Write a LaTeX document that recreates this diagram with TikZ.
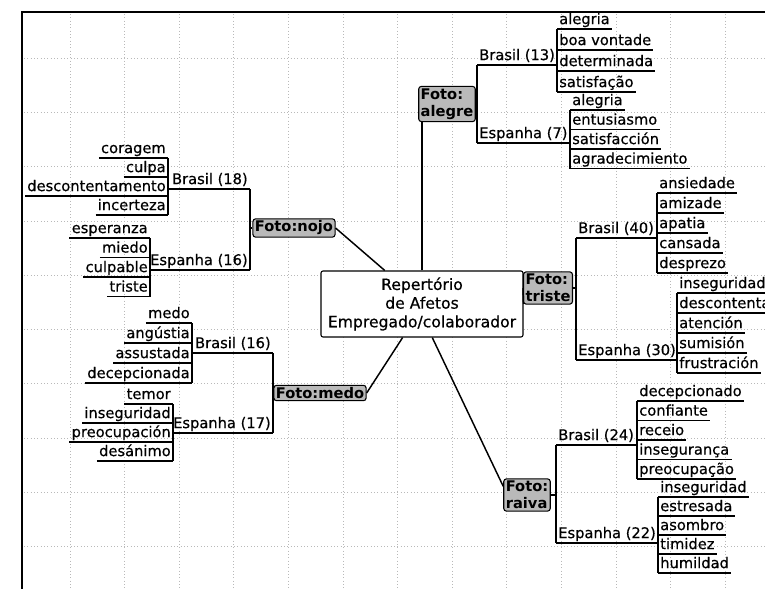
\documentclass[tikz,border=0pt]{standalone}
\usepackage{fontspec}
\setmainfont{DejaVu Sans}

\tikzset{
    topico/.style={font=\fontsize{11}{14}\selectfont\addfontfeature{FakeBold=0.5}, inner xsep=1.5pt, inner ysep=1pt, text height=8pt, text depth=2.5pt},
    foto/.style={draw, line width=0.8pt, rounded corners=2pt, fill=gray!55, font=\fontsize{11}{13}\selectfont\bfseries, align=left, inner sep=1.5pt},
    centro/.style={draw, line width=0.8pt, rounded corners=1.5pt, fill=white, align=center, font=\fontsize{11.7}{14}\selectfont\addfontfeature{FakeBold=0.5}, minimum width=151.5pt, minimum height=49.5pt, inner sep=1pt},
    ramo/.style={line width=0.8pt},
    eixo/.style={line width=1.1pt},
    grade/.style={gray!55, dotted, line width=0.5pt}
}

\begin{document}
\begin{tikzpicture}[x=0.75pt, y=-0.75pt]
    \useasboundingbox (0,0) rectangle (765,589);
    \clip (0,0) rectangle (765,589);

    % grade do papel
    \foreach \gx in {0,...,12} \draw[grade] (70+54.6*\gx,14) -- (70+54.6*\gx,589);
    \foreach \gy in {0,...,9} \draw[grade] (24,58+54.3*\gy) -- (765,58+54.3*\gy);
    \draw[line width=1.2pt] (22,589) -- (22,12) -- (765,12);

    % centro e fotos
    \node[centro] (cen) at (422,304) {Repertório\\de Afetos\\Empregado/colaborador};
    \node[foto] (ale) at (447,104) {Foto:\\alegre};
    \node[foto] (noj) at (294,228) {Foto:nojo};
    \node[foto] (tri) at (548,288) {Foto:\\triste};
    \node[foto] (med) at (320,393) {Foto:medo};
    \node[foto] (rai) at (527,495) {Foto:\\raiva};

    \draw[eixo] (cen.north) -- (cen.north |- ale.south);
    \draw[eixo] (cen.138) -- (noj.east);
    \draw[eixo] (cen.240) -- (med.east);
    \draw[eixo] (cen.287) -- (rai.160);
    \draw[eixo] (cen.east) -- (tri.west);

    % alegre
    \node[topico, anchor=south west] (abr) at (477,65) {Brasil (13)};
    \node[topico, anchor=south west] (aes) at (477,143) {Espanha (7)};
    \foreach \w [count=\i] in {alegria, boa vontade, determinada, satisfação} {
        \node[topico, anchor=south west] (ab\i) at (557,8+21*\i) {\w};
        \draw[ramo] (ab\i.south west) -- (ab\i.south east);
    }
    \foreach \w [count=\i] in {alegria, entusiasmo, satisfacción, agradecimiento} {
        \node[topico, anchor=south west] (ae\i) at (570,90.5+19.5*\i) {\w};
        \draw[ramo] (ae\i.south west) -- (ae\i.south east);
    }
    \draw[ramo] (ale.east) -- (ale.east -| abr.south west);
    \draw[ramo] (abr.south west) -- (aes.south west);
    \draw[ramo] (abr.south west) -- (abr.south west -| ab1.south west);
    \draw[ramo] (aes.south west) -- (aes.south west -| ae1.south west);
    \draw[ramo] (ab1.south west) -- (ab4.south west);
    \draw[ramo] (ae1.south west) -- (ae4.south west);

    % nojo
    \node[topico, anchor=south east] (nbr) at (250,189) {Brasil (18)};
    \node[topico, anchor=south east] (nes) at (250,270) {Espanha (16)};
    \foreach \w [count=\i] in {coragem, culpa, descontentamento, incerteza} {
        \node[topico, anchor=south east] (nb\i) at (168,139+19*\i) {\w};
        \draw[ramo] (nb\i.south west) -- (nb\i.south east);
    }
    \foreach \w [count=\i] in {esperanza, miedo, culpable, triste} {
        \node[topico, anchor=south east] (ne\i) at (150,218.5+19.5*\i) {\w};
        \draw[ramo] (ne\i.south west) -- (ne\i.south east);
    }
    \draw[ramo] (noj.west) -- (noj.west -| nbr.south east);
    \draw[ramo] (nbr.south east) -- (nes.south east);
    \draw[ramo] (nbr.south east) -- (nbr.south east -| nb1.south east);
    \draw[ramo] (nes.south east) -- (nes.south east -| ne1.south east);
    \draw[ramo] (nb1.south east) -- (nb4.south east);
    \draw[ramo] (ne1.south east) -- (ne4.south east);

    % triste
    \node[topico, anchor=south west] (tbr) at (576,238) {Brasil (40)};
    \node[topico, anchor=south west] (tes) at (576,360) {Espanha (30)};
    \foreach \w [count=\i] in {ansiedade, amizade, apatia, cansada, desprezo} {
        \node[topico, anchor=south west] (tb\i) at (657,173+20*\i) {\w};
        \draw[ramo] (tb\i.south west) -- (tb\i.south east);
    }
    \foreach \w [count=\i] in {inseguridad, descontentamento, atención, sumisión, frustración} {
        \node[topico, anchor=south west] (te\i) at (677,273+20*\i) {\w};
        \draw[ramo] (te\i.south west) -- (te\i.south east);
    }
    \draw[ramo] (tri.east) -- (tri.east -| tbr.south west);
    \draw[ramo] (tbr.south west) -- (tes.south west);
    \draw[ramo] (tbr.south west) -- (tbr.south west -| tb1.south west);
    \draw[ramo] (tes.south west) -- (tes.south west -| te1.south west);
    \draw[ramo] (tb1.south west) -- (tb5.south west);
    \draw[ramo] (te1.south west) -- (te5.south west);

    % medo
    \node[topico, anchor=south east] (mbr) at (273,353) {Brasil (16)};
    \node[topico, anchor=south east] (mes) at (273,433) {Espanha (17)};
    \foreach \w [count=\i] in {medo, angústia, assustada, decepcionada} {
        \node[topico, anchor=south east] (mb\i) at (192,303+20*\i) {\w};
        \draw[ramo] (mb\i.south west) -- (mb\i.south east);
    }
    \foreach \w [count=\i] in {temor, inseguridad, preocupación, desánimo} {
        \node[topico, anchor=south east] (me\i) at (173,385+19*\i) {\w};
        \draw[ramo] (me\i.south west) -- (me\i.south east);
    }
    \draw[ramo] (med.west) -- (med.west -| mbr.south east);
    \draw[ramo] (mbr.south east) -- (mes.south east);
    \draw[ramo] (mbr.south east) -- (mbr.south east -| mb1.south east);
    \draw[ramo] (mes.south east) -- (mes.south east -| me1.south east);
    \draw[ramo] (mb1.south east) -- (mb4.south east);
    \draw[ramo] (me1.south east) -- (me4.south east);

    % raiva
    \node[topico, anchor=south west] (rbr) at (556,445) {Brasil (24)};
    \node[topico, anchor=south west] (res) at (556,543) {Espanha (22)};
    \foreach \w [count=\i] in {decepcionado, confiante, receio, insegurança, preocupação} {
        \node[topico, anchor=south west] (rb\i) at (637,381.5+19.5*\i) {\w};
        \draw[ramo] (rb\i.south west) -- (rb\i.south east);
    }
    \foreach \w [count=\i] in {inseguridad, estresada, asombro, timidez, humildad} {
        \node[topico, anchor=south west] (re\i) at (658,478+19*\i) {\w};
        \draw[ramo] (re\i.south west) -- (re\i.south east);
    }
    \draw[ramo] (rai.east) -- (rai.east -| rbr.south west);
    \draw[ramo] (rbr.south west) -- (res.south west);
    \draw[ramo] (rbr.south west) -- (rbr.south west -| rb1.south west);
    \draw[ramo] (res.south west) -- (res.south west -| re1.south west);
    \draw[ramo] (rb1.south west) -- (rb5.south west);
    \draw[ramo] (re1.south west) -- (re5.south west);
\end{tikzpicture}
\end{document}
